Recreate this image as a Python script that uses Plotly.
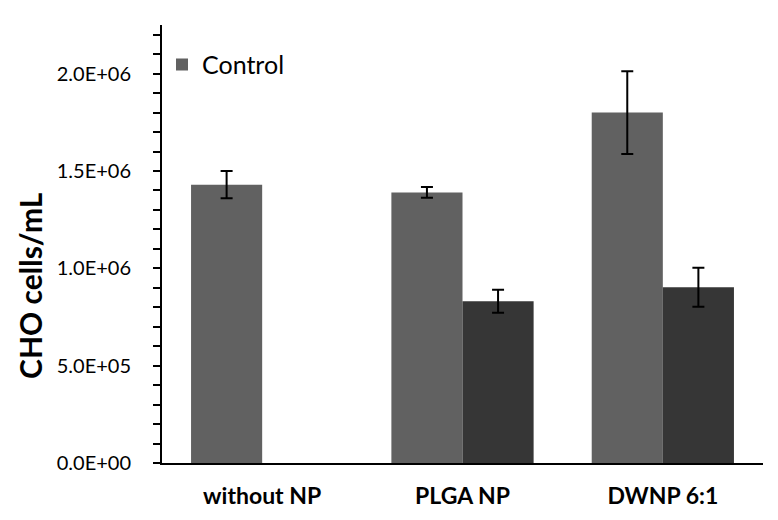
import plotly.graph_objects as go

categories = ["without NP", "PLGA NP", "DWNP 6:1"]
control_vals = [1.43e6, 1.39e6, 1.80e6]
control_err = [0.07e6, 0.028e6, 0.213e6]
treated_vals = [None, 0.831e6, 0.903e6]
treated_err = [0, 0.059e6, 0.10e6]
tick_vals = [0, 5e5, 1e6, 1.5e6, 2e6]
tick_text = ["0.0E+00", "5.0E+05", "1.0E+06", "1.5E+06", "2.0E+06"]
y_title = "CHO cells/mL"

FONT = "Lato, 'Open Sans', sans-serif"

fig = go.Figure()
fig.add_trace(go.Bar(
    x=categories, y=control_vals, name="Control",
    marker=dict(color="#616161", line=dict(width=0)),
    error_y=dict(type="data", array=control_err, color="black", thickness=2, width=6),
))
fig.add_trace(go.Bar(
    x=categories, y=treated_vals, name="NP", showlegend=False,
    marker=dict(color="#363636", line=dict(width=0)),
    error_y=dict(type="data", array=treated_err, color="black", thickness=2, width=6),
))

fig.add_annotation(
    text=y_title, textangle=-90, xref="paper", yref="paper",
    x=-0.22, y=0.406, xanchor="center", yanchor="middle", showarrow=False,
    font=dict(size=30, family=FONT, weight="bold", color="black"),
)

fig.update_layout(
    width=770, height=512,
    margin=dict(l=154, r=15, t=17, b=57),
    paper_bgcolor="white", plot_bgcolor="white",
    barmode="group", bargap=0.29, bargroupgap=0,
    font=dict(family=FONT, color="black"),
    legend=dict(x=0.0, y=0.962, xanchor="left", yanchor="top",
                font=dict(size=25, family=FONT), bgcolor="rgba(0,0,0,0)",
                itemwidth=30),
    xaxis=dict(
        showline=True, linecolor="black", linewidth=2,
        ticks="", showgrid=False, range=[-0.5, 2.5],
        ticklabelstandoff=11,
        tickfont=dict(size=23, family=FONT, weight="bold"),
    ),
    yaxis=dict(
        range=[0, 2.25e6],
        showline=True, linecolor="black", linewidth=2,
        showgrid=False, zeroline=False,
        ticks="outside", ticklen=7, tickwidth=2, tickcolor="black",
        tickvals=tick_vals, ticktext=tick_text,
        ticklabelstandoff=18,
        tickfont=dict(size=20, family=FONT),
        minor=dict(dtick=1e5, ticks="outside", ticklen=7, tickwidth=1.5, tickcolor="black", showgrid=False),
    ),
)

fig.write_html("out.html")
